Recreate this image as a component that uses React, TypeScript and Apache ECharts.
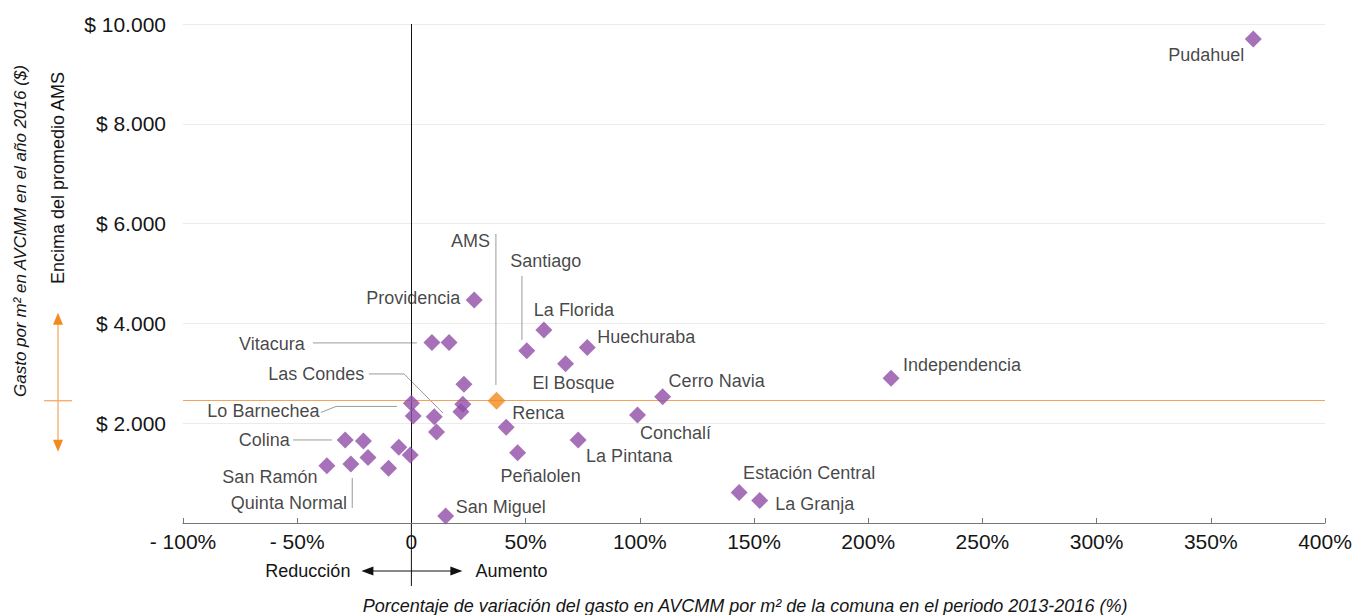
import React, { useEffect, useRef } from 'react';
import * as echarts from 'echarts';

// ---- data ----
const comunas = [
  'Pudahuel', 'Independencia', 'Cerro Navia', 'Conchalí', 'Estación Central', 'La Granja',
  'Huechuraba', 'La Florida', 'Santiago', 'El Bosque', 'Renca', 'La Pintana', 'Peñalolen',
  'San Miguel', 'Providencia', 'Vitacura', '', '', '', '', 'Lo Barnechea', '', 'Las Condes',
  '', 'Colina', '', '', '', '', '', 'San Ramón', 'Quinta Normal',
];
const variacion = [
  368.6, 210, 110, 99, 143.5, 152.5,
  77, 58, 50.5, 67.5, 41.5, 73, 46.5,
  15, 27.5, 9, 16.5, 23, 22.5, 21.7, 0, 0.8, 10,
  11, -29, -21, -19, -5.5, -0.5, -10, -37, -26.5,
];
const gasto = [
  9700, 2900, 2530, 2165, 610, 450,
  3515, 3870, 3450, 3190, 1920, 1665, 1410,
  140, 4470, 3615, 3615, 2780, 2380, 2230, 2400, 2145, 2130,
  1825, 1665, 1645, 1315, 1520, 1365, 1095, 1145, 1180,
];
const amsNombre = 'AMS';
const amsVariacion = 37.3;
const amsGasto = 2450;

const xTicks = { min: -100, max: 400, interval: 50 };
const yTicks = { min: 0, max: 10000, interval: 2000 };

// leader lines, in data units (variación %, gasto $)
const leaderLines: number[][][] = [
  [[-43.1, 3609], [2.4, 3609]],
  [[-18.6, 2987], [-3.2, 2987], [13.8, 2205]],
  [[-39.6, 2215], [-33.0, 2336], [-6.3, 2336]],
  [[-51.8, 1664], [-34.8, 1664]],
  [[-25.9, 902], [-25.9, 301]],
  [[37.0, 5794], [37.0, 2767]],
  [[48.4, 4952], [48.4, 3669]],
];

// label offsets (style): label centre relative to the point, pixels
const labelOffsets: Record<string, [number, number]> = {
  'Pudahuel': [-47, 16],
  'Independencia': [71, -13],
  'Cerro Navia': [54, -16],
  'Conchalí': [38, 18],
  'Estación Central': [70, -20],
  'La Granja': [55, 3],
  'Huechuraba': [59, -11],
  'La Florida': [30, -20],
  'Santiago': [19, -90],
  'El Bosque': [8, 19],
  'Renca': [32, -14],
  'La Pintana': [51, 16],
  'Peñalolen': [23, 23],
  'San Miguel': [55, -9],
  'Providencia': [-61, -2],
  'Vitacura': [-160, 1],
  'Las Condes': [-118, -43],
  'Lo Barnechea': [-148, 8],
  'Colina': [-81, 0],
  'San Ramón': [-57, 11],
  'Quinta Normal': [-62, 39],
  'AMS': [-26, -160],
};

const FONT = '"Liberation Sans", Arial, sans-serif';
const PURPLE = '#914ea8';
const ORANGE = '#f38a1f';
const ORANGE_LINE = '#f5a25a';
const TXT = '#151515';

function fmtX(v: number) {
  if (v === 0) return '0';
  if (v < 0) return '- ' + Math.abs(v) + '%';
  return v + '%';
}
function fmtY(v: number) {
  if (v === 0) return '';
  return '$ ' + v.toLocaleString('de-DE');
}

export default function App() {
  const ref = useRef<HTMLDivElement>(null);
  useEffect(() => {
    document.body.style.margin = '0';
    if (!ref.current) return;
    const chart = echarts.init(ref.current, undefined, { renderer: 'svg' });

    const pts = comunas.map((n, i) => {
      const off = labelOffsets[n];
      return {
        name: n,
        value: [variacion[i], gasto[i]],
        label: off ? { show: true, offset: off } : { show: false },
      };
    });

    chart.setOption({
      animation: false,
      textStyle: { fontFamily: FONT },
      grid: { left: 183, right: 31, top: 24, bottom: 92, containLabel: false },
      xAxis: {
        type: 'value',
        min: xTicks.min,
        max: xTicks.max,
        interval: xTicks.interval,
        axisLine: { show: true, onZero: false, lineStyle: { color: '#777', width: 1 } },
        axisTick: { show: true, inside: true, length: 5, lineStyle: { color: '#777' } },
        splitLine: { show: false },
        axisLabel: { formatter: fmtX, fontSize: 21, color: TXT, margin: 8, fontFamily: FONT },
      },
      yAxis: {
        type: 'value',
        min: yTicks.min,
        max: yTicks.max,
        interval: yTicks.interval,
        axisLine: { show: false },
        axisTick: { show: false },
        splitLine: { show: true, lineStyle: { color: '#ebebeb', width: 1 } },
        axisLabel: { formatter: fmtY, fontSize: 21, color: TXT, margin: 17, fontFamily: FONT },
      },
      series: [
        {
          type: 'lines',
          coordinateSystem: 'cartesian2d',
          polyline: true,
          silent: true,
          z: 1,
          lineStyle: { color: '#9a9a9a', width: 1, opacity: 1 },
          data: leaderLines.map((c) => ({ coords: c })),
        },
        {
          type: 'scatter',
          symbol: 'diamond',
          symbolSize: 17,
          z: 5,
          itemStyle: { color: PURPLE },
          label: {
            position: 'inside',
            formatter: '{b}',
            fontSize: 18,
            color: TXT,
            fontFamily: FONT,
            align: 'center',
            verticalAlign: 'middle',
          },
          data: pts,
        },
        {
          type: 'scatter',
          symbol: 'diamond',
          symbolSize: 18,
          z: 6,
          itemStyle: { color: ORANGE },
          label: {
            show: true,
            position: 'inside',
            formatter: '{b}',
            fontSize: 18,
            color: TXT,
            fontFamily: FONT,
            offset: labelOffsets[amsNombre],
          },
          data: [{ name: amsNombre, value: [amsVariacion, amsGasto] }],
          markLine: {
            silent: true,
            symbol: ['none', 'none'],
            label: { show: false },
            z: 2,
            data: [
              { xAxis: 0, lineStyle: { color: '#111', width: 1, type: 'solid' } },
              { yAxis: amsGasto, lineStyle: { color: ORANGE_LINE, width: 1.2, type: 'solid' } },
            ],
          },
        },
      ],
    });

    const [x0, yb] = chart.convertToPixel({ gridIndex: 0 } as any, [0, 0]) as number[];
    const yA = (chart.convertToPixel({ gridIndex: 0 } as any, [0, amsGasto]) as number[])[1];
    const ay = yb + 48;
    const ox = 58;

    chart.setOption({
      graphic: [
        // zero line continued below the axis
        { type: 'line', shape: { x1: x0, y1: yb, x2: x0, y2: yb + 63 }, style: { stroke: '#111', lineWidth: 1 } },
        // horizontal double arrow
        { type: 'line', shape: { x1: x0 - 40, y1: ay, x2: x0 + 40, y2: ay }, style: { stroke: '#111', lineWidth: 1.2 } },
        { type: 'polygon', shape: { points: [[x0 - 50, ay], [x0 - 38, ay - 4.5], [x0 - 38, ay + 4.5]] }, style: { fill: '#111' } },
        { type: 'polygon', shape: { points: [[x0 + 51, ay], [x0 + 39, ay - 4.5], [x0 + 39, ay + 4.5]] }, style: { fill: '#111' } },
        { type: 'text', x: x0 - 61, y: ay, style: { text: 'Reducción', fontSize: 18, fill: TXT, fontFamily: FONT, align: 'right', verticalAlign: 'middle' } },
        { type: 'text', x: x0 + 64, y: ay, style: { text: 'Aumento', fontSize: 18, fill: TXT, fontFamily: FONT, align: 'left', verticalAlign: 'middle' } },
        // x axis title
        { type: 'text', x: 745, y: 606, style: { text: 'Porcentaje de variación del gasto en AVCMM por m² de la comuna en el periodo 2013-2016 (%)', fontSize: 18, fontStyle: 'italic', fill: TXT, fontFamily: FONT, align: 'center', verticalAlign: 'middle' } },
        // y axis titles
        { type: 'text', x: 20, y: 231, rotation: Math.PI / 2, style: { text: 'Gasto por m² en AVCMM en el año 2016 ($)', fontSize: 17, fontStyle: 'italic', fill: TXT, fontFamily: FONT, align: 'center', verticalAlign: 'middle' } },
        { type: 'text', x: 58, y: 178, rotation: Math.PI / 2, style: { text: 'Encima del promedio AMS', fontSize: 18, fill: TXT, fontFamily: FONT, align: 'center', verticalAlign: 'middle' } },
        // orange vertical double arrow
        { type: 'line', shape: { x1: ox, y1: yA - 80, x2: ox, y2: yA + 43 }, style: { stroke: ORANGE_LINE, lineWidth: 1.2 } },
        { type: 'line', shape: { x1: ox - 14, y1: yA, x2: ox + 14, y2: yA }, style: { stroke: ORANGE_LINE, lineWidth: 1.2 } },
        { type: 'polygon', shape: { points: [[ox, yA - 88], [ox - 5, yA - 76], [ox + 5, yA - 76]] }, style: { fill: ORANGE } },
        { type: 'polygon', shape: { points: [[ox, yA + 51], [ox - 5, yA + 39], [ox + 5, yA + 39]] }, style: { fill: ORANGE } },
      ],
    });

    return () => chart.dispose();
  }, []);
  return <div ref={ref} style={{ width: 1356, height: 615 }} />;
}
